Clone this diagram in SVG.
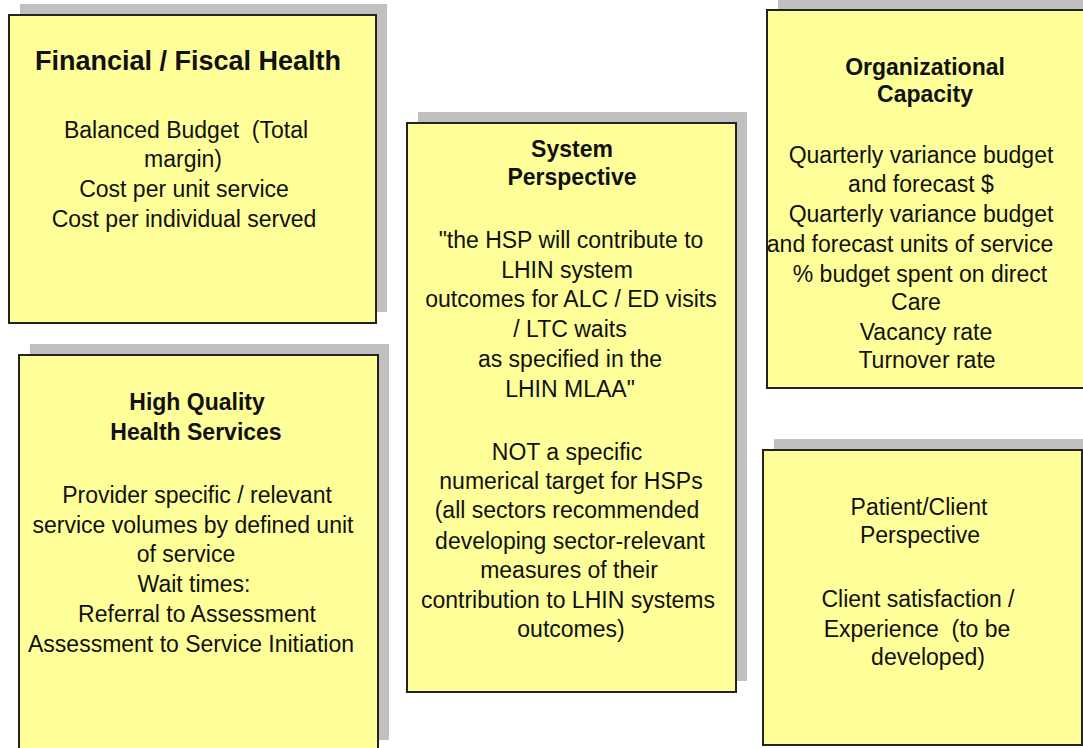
<svg xmlns="http://www.w3.org/2000/svg" width="1083" height="748" viewBox="0 0 1083 748">
  <style>
    .shadow { fill: #c0c0c0; }
    .card { fill: #ffff99; stroke: #222222; stroke-width: 2; }
    text { font-family: "Liberation Sans", Arial, sans-serif; fill: #111111; text-anchor: middle; white-space: pre; }
    .title { font-weight: bold; font-size: 23px; }
    .big { font-weight: bold; font-size: 27px; }
    .body { font-size: 23px; }
  </style>
  <rect width="1083" height="748" fill="#ffffff"/>

  <!-- Financial / Fiscal Health -->
  <g id="financial">
    <rect class="shadow" x="20" y="4" width="367" height="308"/>
    <rect class="card" x="9" y="15" width="367" height="308"/>
    <text class="big" x="188" y="70">Financial / Fiscal Health</text>
    <text class="body" x="186" y="138" xml:space="preserve">Balanced Budget  (Total</text>
    <text class="body" x="183" y="167">margin)</text>
    <text class="body" x="184" y="197">Cost per unit service</text>
    <text class="body" x="184" y="227">Cost per individual served</text>
  </g>

  <!-- High Quality Health Services -->
  <g id="quality">
    <rect class="shadow" x="30" y="344" width="359" height="396"/>
    <rect class="card" x="19" y="355" width="359" height="400"/>
    <text class="title" x="197" y="410">High Quality</text>
    <text class="title" x="196" y="440">Health Services</text>
    <text class="body" x="197" y="503">Provider specific / relevant</text>
    <text class="body" x="193" y="533">service volumes by defined unit</text>
    <text class="body" x="186" y="562">of service</text>
    <text class="body" x="194" y="592">Wait times:</text>
    <text class="body" x="197" y="622">Referral to Assessment</text>
    <text class="body" x="191" y="652">Assessment to Service Initiation</text>
  </g>

  <!-- System Perspective -->
  <g id="system">
    <rect class="shadow" x="418" y="112" width="329" height="569"/>
    <rect class="card" x="407" y="123" width="329" height="569"/>
    <text class="title" x="572" y="157">System</text>
    <text class="title" x="572" y="185">Perspective</text>
    <text class="body" x="571" y="248">"the HSP will contribute to</text>
    <text class="body" x="567" y="278">LHIN system</text>
    <text class="body" x="571" y="307">outcomes for ALC / ED visits</text>
    <text class="body" x="570" y="337">/ LTC waits</text>
    <text class="body" x="570" y="367">as specified in the</text>
    <text class="body" x="570" y="397">LHIN MLAA"</text>
    <text class="body" x="567" y="460">NOT a specific</text>
    <text class="body" x="571" y="489">numerical target for HSPs</text>
    <text class="body" x="567" y="518">(all sectors recommended</text>
    <text class="body" x="570" y="549">developing sector-relevant</text>
    <text class="body" x="569" y="578">measures of their</text>
    <text class="body" x="568" y="608">contribution to LHIN systems</text>
    <text class="body" x="571" y="637">outcomes)</text>
  </g>

  <!-- Organizational Capacity -->
  <g id="capacity">
    <rect class="shadow" x="778" y="-1" width="330" height="378"/>
    <rect class="card" x="767" y="10" width="330" height="378"/>
    <text class="title" x="925" y="75">Organizational</text>
    <text class="title" x="925" y="102">Capacity</text>
    <text class="body" x="921" y="163">Quarterly variance budget</text>
    <text class="body" x="921" y="192">and forecast $</text>
    <text class="body" x="921" y="222">Quarterly variance budget</text>
    <text class="body" x="910" y="252">and forecast units of service</text>
    <text class="body" x="920" y="282">% budget spent on direct</text>
    <text class="body" x="916" y="310">Care</text>
    <text class="body" x="926" y="340">Vacancy rate</text>
    <text class="body" x="927" y="368">Turnover rate</text>
  </g>

  <!-- Patient/Client Perspective -->
  <g id="patient">
    <rect class="shadow" x="774" y="439" width="319" height="295"/>
    <rect class="card" x="763" y="450" width="319" height="295"/>
    <text class="body" x="919" y="515">Patient/Client</text>
    <text class="body" x="920" y="543">Perspective</text>
    <text class="body" x="918" y="607">Client satisfaction /</text>
    <text class="body" x="917" y="637" xml:space="preserve">Experience  (to be</text>
    <text class="body" x="928" y="665">developed)</text>
  </g>

  <!-- no connectors in this figure -->
  <g id="connectors"/>
</svg>
